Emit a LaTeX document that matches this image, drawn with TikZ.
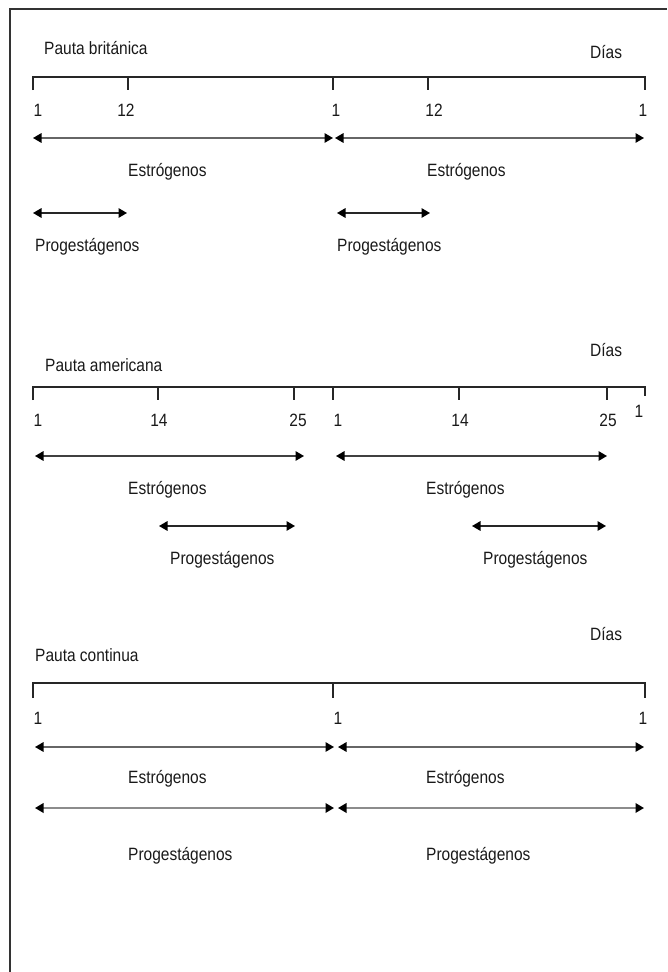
\documentclass[tikz,border=0pt]{standalone}
\usepackage{fontspec}
\setmainfont{Liberation Sans}
\usetikzlibrary{arrows.meta}
\newcommand{\stretchtxt}[1]{\scalebox{1}[1.15]{#1}}
\begin{document}
\begin{tikzpicture}[x=1pt,y=-1pt,
  txt/.style={font=\fontsize{15.5}{18}\selectfont, inner sep=0pt, text=black!90},
  ttl/.style={txt, anchor=west},
  axisline/.style={line width=1.4pt, draw=black!85},
  span/.style={line width=1.5pt, draw=black!60, {Triangle[length=8.5pt,width=9.5pt,color=black]}-{Triangle[length=8.5pt,width=9.5pt,color=black]}},
  frame/.style={line width=2pt, draw=black!80}]
\useasboundingbox (0,0) rectangle (667,972);
% frame
\coordinate (fa) at (10,972); \coordinate (fb) at (10,9); \coordinate (fc) at (667,9);
\draw[frame] (fa) -- (fb) -- (fc);

% ===== Section 1: Pauta britanica =====
\node[ttl] (t1) at (44,48) {\stretchtxt{Pauta británica}};
\node[ttl] (d1) at (590,52) {\stretchtxt{Días}};
\coordinate (a1s) at (33,77); \coordinate (a1e) at (645,77);
\coordinate (a1k1) at (128,77); \coordinate (a1k2) at (333,77); \coordinate (a1k3) at (428,77);
\draw[axisline] ([yshift=-13pt]a1s) -- (a1s) -- (a1e) -- ([yshift=-13pt]a1e);
\foreach \k in {a1k1,a1k2,a1k3} \draw[axisline] (\k) -- ([yshift=-13pt]\k);
\node[txt] (n11) at (38,110) {\stretchtxt{1}};
\node[txt] (n12) at (126,110) {\stretchtxt{12}};
\node[txt] (n13) at (336,110) {\stretchtxt{1}};
\node[txt] (n14) at (434,110) {\stretchtxt{12}};
\node[txt] (n15) at (643,110) {\stretchtxt{1}};
\coordinate (e1a) at (33,138); \coordinate (e1b) at (333,138);
\coordinate (e1c) at (335,138); \coordinate (e1d) at (644,138);
\draw[span] (e1a) -- (e1b);
\draw[span] (e1c) -- (e1d);
\node[ttl] (es11) at (128,172) {\stretchtxt{Estrógenos}};
\node[ttl] (es12) at (427,172) {\stretchtxt{Estrógenos}};
\coordinate (p1a) at (33,213); \coordinate (p1b) at (127,213);
\coordinate (p1c) at (337,213); \coordinate (p1d) at (430,213);
\draw[span,draw=black!85] (p1a) -- (p1b);
\draw[span,draw=black!85] (p1c) -- (p1d);
\node[ttl] (pr11) at (35,247) {\stretchtxt{Progestágenos}};
\node[ttl] (pr12) at (337,247) {\stretchtxt{Progestágenos}};

% ===== Section 2: Pauta americana =====
\node[ttl] (t2) at (45,365) {\stretchtxt{Pauta americana}};
\node[ttl] (d2) at (590,350) {\stretchtxt{Días}};
\coordinate (a2s) at (33,387); \coordinate (a2e) at (645,387);
\coordinate (a2k1) at (158,387); \coordinate (a2k2) at (294,387); \coordinate (a2k3) at (333,387);
\coordinate (a2k4) at (459,387); \coordinate (a2k5) at (607,387);
\draw[axisline] ([yshift=-13pt]a2s) -- (a2s) -- (a2e) -- ([yshift=-9pt]a2e);
\foreach \k in {a2k1,a2k2,a2k3,a2k4,a2k5} \draw[axisline] (\k) -- ([yshift=-13pt]\k);
\node[txt] (n21) at (38,420) {\stretchtxt{1}};
\node[txt] (n22) at (159,420) {\stretchtxt{14}};
\node[txt] (n23) at (298,420) {\stretchtxt{25}};
\node[txt] (n24) at (338,420) {\stretchtxt{1}};
\node[txt] (n25) at (460,420) {\stretchtxt{14}};
\node[txt] (n26) at (608,420) {\stretchtxt{25}};
\node[txt] (n27) at (639,411) {\stretchtxt{1}};
\coordinate (e2a) at (35,456); \coordinate (e2b) at (304,456);
\coordinate (e2c) at (336,456); \coordinate (e2d) at (607,456);
\draw[span,draw=black!75] (e2a) -- (e2b);
\draw[span,draw=black!75] (e2c) -- (e2d);
\node[ttl] (es21) at (128,490) {\stretchtxt{Estrógenos}};
\node[ttl] (es22) at (426,490) {\stretchtxt{Estrógenos}};
\coordinate (p2a) at (159,526); \coordinate (p2b) at (295,526);
\coordinate (p2c) at (472,526); \coordinate (p2d) at (606,526);
\draw[span,draw=black!85] (p2a) -- (p2b);
\draw[span,draw=black!85] (p2c) -- (p2d);
\node[ttl] (pr21) at (170,560) {\stretchtxt{Progestágenos}};
\node[ttl] (pr22) at (483,560) {\stretchtxt{Progestágenos}};

% ===== Section 3: Pauta continua =====
\node[ttl] (d3) at (590,634) {\stretchtxt{Días}};
\node[ttl] (t3) at (35,655) {\stretchtxt{Pauta continua}};
\coordinate (a3s) at (33,683); \coordinate (a3e) at (645,683);
\coordinate (a3k1) at (333,683);
\draw[axisline] ([yshift=-15pt]a3s) -- (a3s) -- (a3e) -- ([yshift=-15pt]a3e);
\draw[axisline] (a3k1) -- ([yshift=-15pt]a3k1);
\node[txt] (n31) at (38,718) {\stretchtxt{1}};
\node[txt] (n32) at (338,718) {\stretchtxt{1}};
\node[txt] (n33) at (643,718) {\stretchtxt{1}};
\coordinate (e3a) at (35,747); \coordinate (e3b) at (334,747);
\coordinate (e3c) at (338,747); \coordinate (e3d) at (644,747);
\draw[span] (e3a) -- (e3b);
\draw[span] (e3c) -- (e3d);
\node[ttl] (es31) at (128,779) {\stretchtxt{Estrógenos}};
\node[ttl] (es32) at (426,779) {\stretchtxt{Estrógenos}};
\coordinate (p3a) at (35,808); \coordinate (p3b) at (334,808);
\coordinate (p3c) at (338,808); \coordinate (p3d) at (644,808);
\draw[span,draw=black!45,line width=1.8pt] (p3a) -- (p3b);
\draw[span,draw=black!45,line width=1.8pt] (p3c) -- (p3d);
\node[ttl] (pr31) at (128,856) {\stretchtxt{Progestágenos}};
\node[ttl] (pr32) at (426,856) {\stretchtxt{Progestágenos}};
\end{tikzpicture}
\end{document}
